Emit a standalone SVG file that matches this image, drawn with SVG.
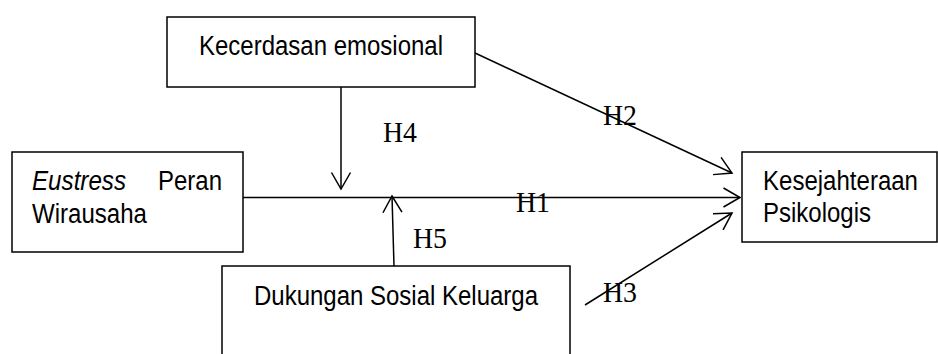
<svg xmlns="http://www.w3.org/2000/svg" width="938" height="354" viewBox="0 0 938 354">
<style>
.box{fill:#fff;stroke:#000;stroke-width:1.5}
.t{font-family:"Liberation Sans",Arial,sans-serif;font-size:27px;fill:#000}
.lbl{font-family:"Liberation Serif","Times New Roman",serif;font-size:29px;fill:#000}
.c{stroke:#000;stroke-width:1.5;fill:none}
</style>
<defs>
<marker id="arr" markerUnits="userSpaceOnUse" markerWidth="24" markerHeight="24" viewBox="-20 -12 24 24" refX="0" refY="0" orient="auto">
<path d="M-16.5,-9.5 L0,0 L-16.5,9.5" fill="none" stroke="#000" stroke-width="1.5"/>
</marker>
</defs>
<rect width="938" height="354" fill="#fff"/>
<g id="connectors">
<line class="c" x1="341" y1="87" x2="341" y2="189" marker-end="url(#arr)"/>
<line class="c" x1="394" y1="266" x2="392" y2="196" marker-end="url(#arr)"/>
<line class="c" x1="243" y1="197.5" x2="740" y2="197.5" marker-end="url(#arr)"/>
<line class="c" x1="475" y1="53" x2="732" y2="173" marker-end="url(#arr)"/>
<line class="c" x1="585" y1="305" x2="732" y2="213" marker-end="url(#arr)"/>
</g>
<g id="labels">
<text class="lbl" x="383" y="142" textLength="34" lengthAdjust="spacingAndGlyphs">H4</text>
<text class="lbl" x="603" y="125" textLength="34" lengthAdjust="spacingAndGlyphs">H2</text>
<text class="lbl" x="516" y="212" textLength="34" lengthAdjust="spacingAndGlyphs">H1</text>
<text class="lbl" x="413" y="248" textLength="34" lengthAdjust="spacingAndGlyphs">H5</text>
<text class="lbl" x="603" y="302" textLength="34" lengthAdjust="spacingAndGlyphs">H3</text>
</g>
<g id="node-kecerdasan">
<rect class="box" x="167" y="17" width="308" height="70"/>
<text class="t" x="199" y="55" textLength="244" lengthAdjust="spacingAndGlyphs">Kecerdasan emosional</text>
</g>
<g id="node-eustress">
<rect class="box" x="12" y="152" width="231" height="100"/>
<text class="t" x="32" y="190" font-style="italic" textLength="94" lengthAdjust="spacingAndGlyphs">Eustress</text>
<text class="t" x="158" y="190" textLength="64" lengthAdjust="spacingAndGlyphs">Peran</text>
<text class="t" x="32" y="223" textLength="115" lengthAdjust="spacingAndGlyphs">Wirausaha</text>
</g>
<g id="node-kesejahteraan">
<rect class="box" x="742" y="152" width="195" height="90"/>
<text class="t" x="763" y="190" textLength="155" lengthAdjust="spacingAndGlyphs">Kesejahteraan</text>
<text class="t" x="763" y="222" textLength="108" lengthAdjust="spacingAndGlyphs">Psikologis</text>
</g>
<g id="node-dukungan">
<rect class="box" x="222" y="266" width="348" height="110"/>
<text class="t" x="254" y="305" textLength="284" lengthAdjust="spacingAndGlyphs">Dukungan Sosial Keluarga</text>
</g>
</svg>
